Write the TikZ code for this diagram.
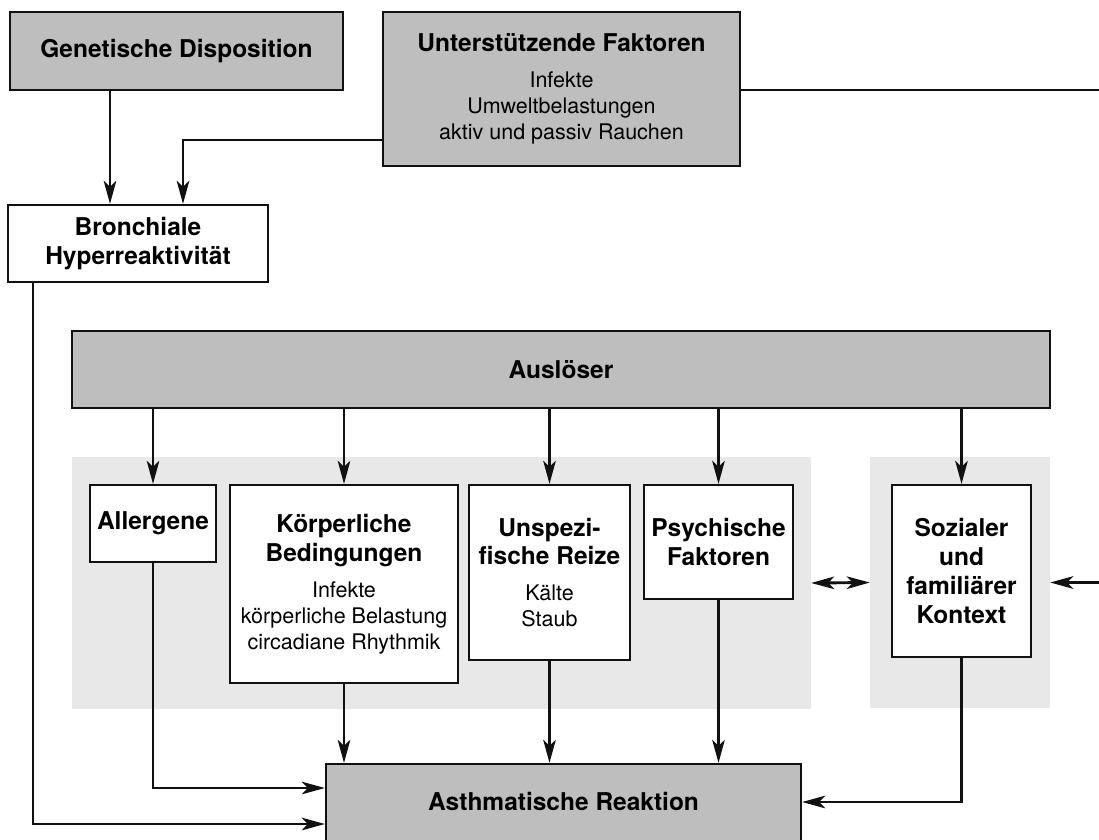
\documentclass[tikz,border=0pt]{standalone}
\usepackage{fontspec}
\setmainfont{TeX Gyre Heros}
\usetikzlibrary{arrows.meta}
\definecolor{boxgray}{HTML}{BEBEBE}
\definecolor{panelgray}{HTML}{E8E8E8}
\definecolor{ink}{HTML}{111111}
\newcommand\boxhead{\fontsize{24.5}{29}\selectfont\bfseries}
\begin{document}
\begin{tikzpicture}[x=1pt,y=-1pt,
  box/.style={draw=ink, line width=2.2pt, rectangle, inner sep=0pt, align=center},
  gbox/.style={box, fill=boxgray},
  wbox/.style={box, fill=white},
  head/.style={font=\boxhead},
  body/.style={font=\fontsize{21.5}{26}\selectfont},
  panel/.style={fill=panelgray, draw=none, rectangle, inner sep=0pt},
  tip/.tip={Stealth[length=23pt,width=12.5pt,inset=6pt]},
  arr/.style={draw=ink, line width=2.9pt, -tip},
  dbl/.style={draw=ink, line width=2.9pt, tip-tip}
]
\useasboundingbox (0,0) rectangle (1099,839);

% light background groups
\node[panel, minimum width=739pt, minimum height=252pt] (panL) at (441.5,583) {};
\node[panel, minimum width=180pt, minimum height=251pt] (panR) at (960,582.5) {};

% top row
\node[gbox, head, minimum width=333pt, minimum height=78pt] (gen) at (176.5,51) {Genetische Disposition};
\node[gbox, body, minimum width=357pt, minimum height=154pt] (unt) at (561.5,89)
  {{\boxhead Unterstützende Faktoren}\\[10pt]Infekte\\Umweltbelastungen\\aktiv und passiv Rauchen};
\node[wbox, head, minimum width=260pt, minimum height=77pt] (bro) at (138,243.5) {Bronchiale\\Hyperreaktivität};

% triggers
\node[gbox, head, minimum width=978pt, minimum height=77pt] (aus) at (561,369.5) {Auslöser};
\node[wbox, head, minimum width=126pt, minimum height=77pt] (all) at (153,523.5) {Allergene};
\node[wbox, body, minimum width=228pt, minimum height=198pt] (koe) at (344,584)
  {{\boxhead Körperliche}\\[3pt]{\boxhead Bedingungen}\\[10pt]Infekte\\körperliche Belastung\\circadiane Rhythmik};
\node[wbox, body, minimum width=161pt, minimum height=175pt] (uns) at (549.5,572.5)
  {{\boxhead Unspezi-}\\[2pt]{\boxhead fische Reize}\\[10pt]Kälte\\Staub};
\node[wbox, head, minimum width=149pt, minimum height=114pt] (psy) at (718.5,542) {Psychische\\Faktoren};
\node[wbox, head, minimum width=139pt, minimum height=172pt] (soz) at (961.5,571) {Sozialer\\und\\familiärer\\Kontext};

% outcome
\node[gbox, head, text depth=8pt, minimum width=475pt, minimum height=82pt] (ast) at (563.5,805) {Asthmatische Reaktion};

\coordinate (rim) at (1115,0);

% connectors
\draw[arr] ([xshift=-66.5pt]gen.south) -- ([xshift=-28pt]bro.north);
\draw[arr] ([yshift=-51pt]unt.west) -| ([xshift=45pt]bro.north);
\draw[arr] ([xshift=-105pt]bro.south) |- ([yshift=-19pt]ast.west);
\draw[arr] ([yshift=-1pt]unt.east) -- ([yshift=-1pt]unt.east -| rim) |- (panR.east);
\foreach \n in {all,koe,uns,psy,soz} \draw[arr] (aus.south -| \n.north) -- (\n.north);
\draw[dbl] (panL.east) -- (panR.west);
\draw[arr] (all.south) |- ([yshift=17pt]ast.west);
\foreach \n in {koe,uns,psy} \draw[arr] (\n.south) -- (\n.south |- ast.north);
\draw[arr] (soz.south) |- ([yshift=3pt]ast.east);
\end{tikzpicture}
\end{document}
